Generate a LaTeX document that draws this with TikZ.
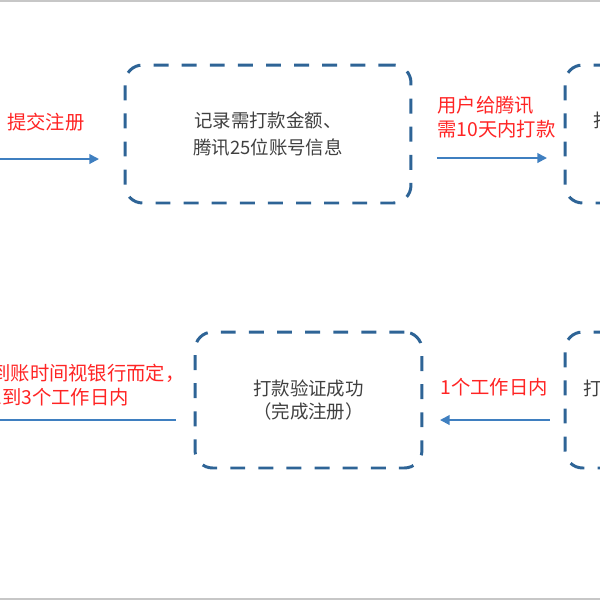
\documentclass[tikz,border=0pt]{standalone}
\usepackage{fontspec}
\setmainfont{Noto Sans CJK SC}
\usetikzlibrary{arrows.meta}

\definecolor{boxblue}{HTML}{2E6496}
\definecolor{flowblue}{HTML}{3F7FC0}
\definecolor{notered}{HTML}{FF2424}
\definecolor{textgray}{HTML}{404040}

\tikzset{
    stage/.style={draw=boxblue, line width=1.7pt, dash pattern=on 8.5pt off 7.5pt,
        rounded corners=10pt, text=textgray, align=center, inner sep=0pt,
        font=\fontsize{10.5}{15.3}\selectfont},
    flow/.style={draw=flowblue, line width=1.1pt, -{Triangle[length=5.5pt,width=5.5pt]}},
    note/.style={text=notered, inner sep=0pt, font=\fontsize{11}{13.8}\selectfont},
    frame/.style={draw=black!22, line width=1.2pt}
}

\begin{document}
\begin{tikzpicture}[x=0.02cm, y=-0.02cm]
    \useasboundingbox (0,0) rectangle (600,600);
    \clip (0,0) rectangle (600,600);

    % top row
    \node[stage, minimum width=5.72cm, minimum height=2.76cm] (record) at (268,134)
        {记录需打款金额、\\腾讯25位账号信息};
    \node[stage, minimum width=5.72cm, minimum height=2.76cm] (pay) at (708,134) {};
    \node[text=textgray, anchor=west, inner sep=0pt, font=\fontsize{10.5}{15}\selectfont] (paytext) at (593,120) {打};

    % bottom row
    \node[stage, minimum width=4.54cm, minimum height=2.72cm, font=\fontsize{10.5}{13}\selectfont] (done) at (308.5,400)
        {打款验证成功\\（完成注册）};
    \node[stage, minimum width=5.72cm, minimum height=2.72cm] (check) at (708,400) {};
    \node[text=textgray, anchor=west, inner sep=0pt, font=\fontsize{10.5}{15}\selectfont] (checktext) at (583,388) {打};

    % labels
    \node[note] (submit) at (46,122) {提交注册};
    \node[note, anchor=west, align=left] (deadline) at (437,117) {用户给腾讯\\需10天内打款};
    \node[note] (oneday) at (494,387) {1个工作日内};
    \node[note, anchor=west, align=left] (arrive) at (-9,385) {到账时间视银行而定，\\1到3个工作日内};

    % arrows
    \coordinate (s0) at (0,159);
    \coordinate (s1) at (99,159);
    \coordinate (p0) at (437,158);
    \coordinate (p1) at (547,158);
    \coordinate (c0) at (550,420);
    \coordinate (c1) at (440,420);
    \coordinate (d0) at (176,420);
    \coordinate (d1) at (-40,420);
    \draw[flow] (s0) -- (s1);
    \draw[flow] (p0) -- (p1);
    \draw[flow] (c0) -- (c1);
    \draw[flow] (d0) -- (d1);

    \draw[frame] (0,1) -- (600,1);
    \draw[frame] (0,599) -- (600,599);
\end{tikzpicture}
\end{document}
